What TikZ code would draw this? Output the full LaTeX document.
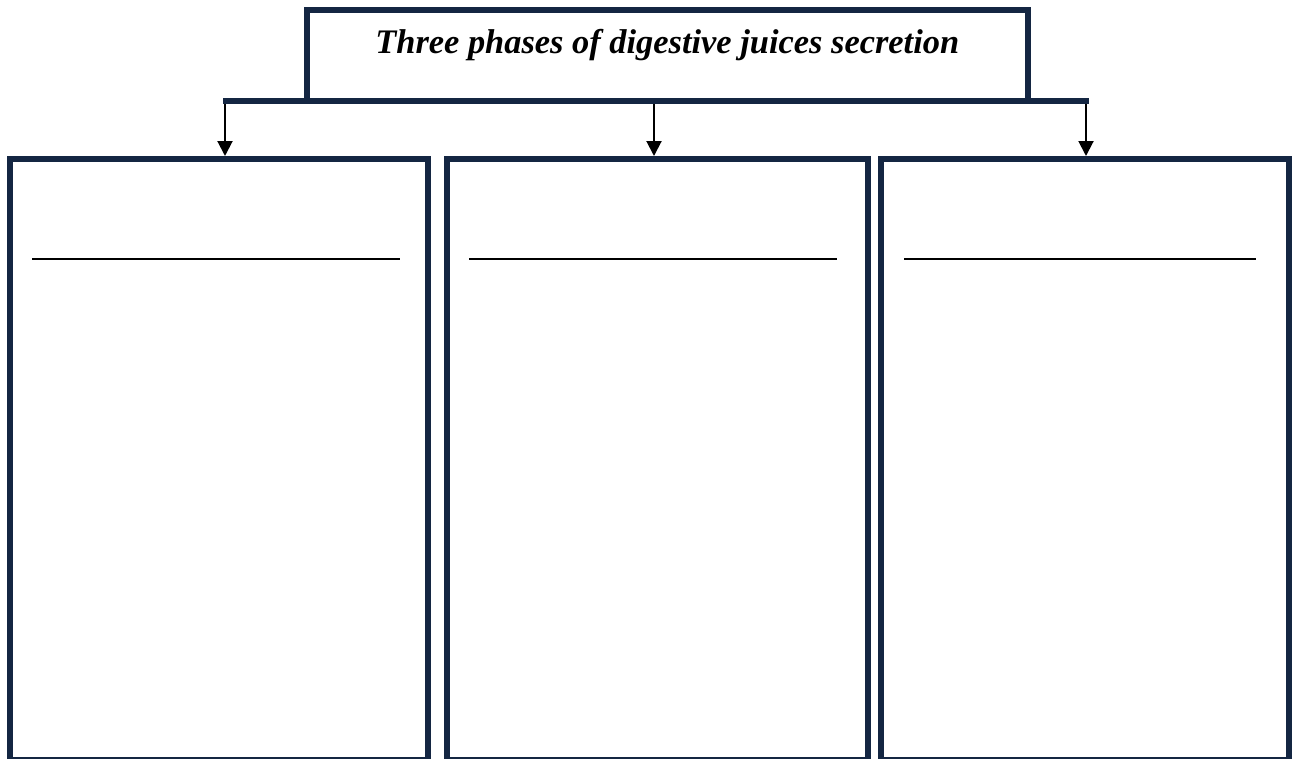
\documentclass[tikz,border=0pt]{standalone}
\usepackage{fontspec}
\setmainfont{Liberation Serif}
\usetikzlibrary{arrows.meta}
\definecolor{navy}{RGB}{20,38,66}
\tikzset{
  frame/.style={draw=navy, line width=6pt, fill=white, inner sep=0pt},
  phasebox/.style={frame, anchor=north west},
  bar/.style={draw=navy, line width=6pt},
  downarrow/.style={draw=black, line width=2pt, -{Triangle[width=15pt,length=15pt]}},
  blank/.style={draw=black, line width=1.4pt},
}
\begin{document}
\begin{tikzpicture}[x=1pt, y=-1pt]
  \useasboundingbox (0,0) rectangle (1293,758);
  \clip (0,0) rectangle (1293,758);

  % heading box
  \node[frame, anchor=north west, minimum width=721.5pt, minimum height=91pt,
        text height=24pt, text depth=29pt,
        font=\fontsize{34.4}{40}\selectfont\bfseries\itshape]
    (title) at (303.5,7) {Three phases of digestive juices secretion};

  % the three phase boxes (bottom edges run just past the page)
  \node[phasebox, minimum width=418pt, minimum height=601pt] (box1) at (7,156) {};
  \node[phasebox, minimum width=421pt, minimum height=601pt] (box2) at (444,156) {};
  \node[phasebox, minimum width=408pt, minimum height=601pt] (box3) at (878,156) {};

  % distribution bar under the heading
  \coordinate (barL) at (223,101);
  \coordinate (barR) at (1088.5,101);
  \draw[bar] (barL) -- (barR);
  \coordinate (a1) at (225,104);
  \coordinate (a2) at (654,104);
  \coordinate (a3) at (1086,104);
  \draw[downarrow] (a1) -- (a1 |- box1.north);
  \draw[downarrow] (a2) -- (a2 |- box2.north);
  \draw[downarrow] (a3) -- (a3 |- box3.north);

  % answer lines
  \draw[blank] (32,259) -- (400,259);
  \draw[blank] (469,259) -- (837,259);
  \draw[blank] (904,259) -- (1256,259);
\end{tikzpicture}
\end{document}
